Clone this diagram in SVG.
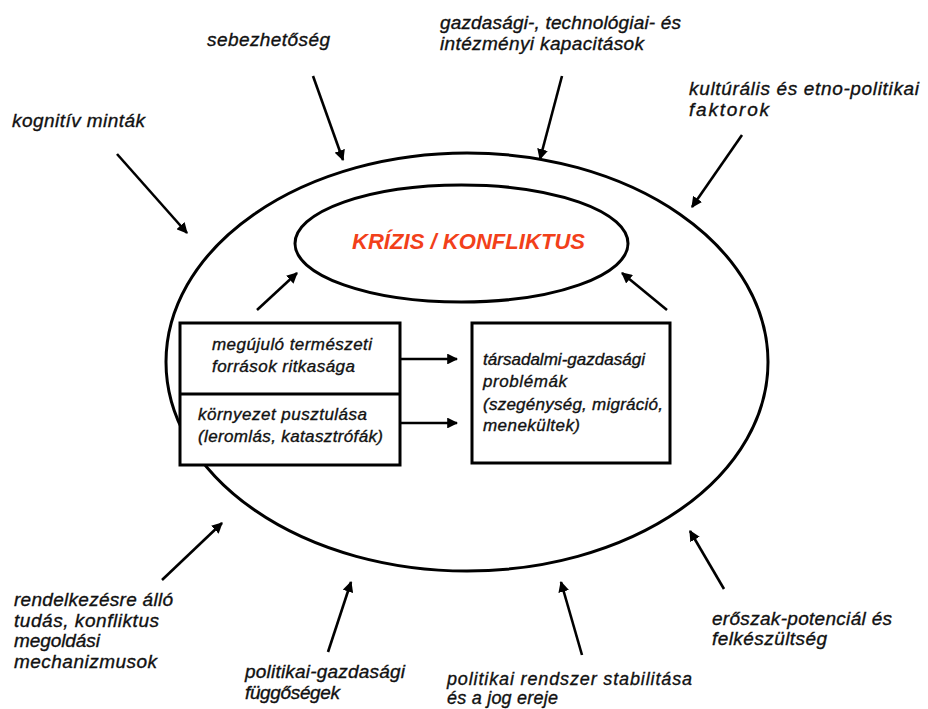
<svg xmlns="http://www.w3.org/2000/svg" width="928" height="709" viewBox="0 0 928 709">
<style>
.lbl{font-family:"Liberation Sans",Arial,sans-serif;font-style:italic;font-size:17px;fill:#111;stroke:#111;stroke-width:0.35}
.out{font-size:19px}
.sm{font-size:18px}
.shape{fill:none;stroke:#000;stroke-width:3}
.box{fill:#fff;stroke:#000;stroke-width:3}
.arr{fill:none;stroke:#000;stroke-width:2.6;marker-end:url(#ah)}
.title{font-family:"Liberation Sans",Arial,sans-serif;font-style:italic;font-weight:bold;font-size:22px;fill:#f2401a}
</style>
<defs>
<marker id="ah" viewBox="0 0 10 10" refX="9" refY="5" markerWidth="4.2" markerHeight="4.2" markerUnits="strokeWidth" orient="auto">
<path d="M0,0 L10,5 L0,10 z" fill="#000"/>
</marker>
</defs>
<rect width="928" height="709" fill="#fff"/>
<g id="outer"><ellipse class="shape" cx="467" cy="362" rx="301" ry="209"/></g>
<g id="krizis">
<ellipse class="shape" cx="461.5" cy="243.5" rx="166.5" ry="58.5"/>
<text class="title" x="352" y="249" textLength="233">KRÍZIS / KONFLIKTUS</text>
</g>
<g id="left-box">
<rect class="box" x="180" y="323" width="220" height="142"/>
<line class="shape" x1="180" y1="394" x2="400" y2="394"/>
<text class="lbl" x="212" y="350" textLength="160">megújuló természeti</text>
<text class="lbl" x="212" y="372" textLength="143">források ritkasága</text>
<text class="lbl" x="198" y="420" textLength="169">környezet pusztulása</text>
<text class="lbl" x="198" y="442" textLength="185">(leromlás, katasztrófák)</text>
</g>
<g id="right-box">
<rect class="box" x="472" y="323" width="198" height="140"/>
<text class="lbl" x="483" y="365" textLength="162">társadalmi-gazdasági</text>
<text class="lbl" x="483" y="387" textLength="84">problémák</text>
<text class="lbl" x="483" y="410" textLength="180">(szegénység, migráció,</text>
<text class="lbl" x="483" y="431" textLength="97">menekültek)</text>
</g>
<g id="labels">
<text class="lbl out" x="207" y="46" textLength="123">sebezhetőség</text>
<text class="lbl out" x="12" y="127" textLength="133">kognitív minták</text>
<text class="lbl out" x="440" y="29" textLength="241">gazdasági-, technológiai- és</text>
<text class="lbl out" x="440" y="50" textLength="204">intézményi kapacitások</text>
<text class="lbl out" x="689" y="95" textLength="230">kultúrális és etno-politikai</text>
<text class="lbl out" x="689" y="116" textLength="80">faktorok</text>
<text class="lbl out" x="14" y="606" textLength="159">rendelkezésre álló</text>
<text class="lbl out" x="14" y="627" textLength="145">tudás, konfliktus</text>
<text class="lbl out" x="14" y="647" textLength="86">megoldási</text>
<text class="lbl out" x="14" y="668" textLength="143">mechanizmusok</text>
<text class="lbl out" x="245" y="678" textLength="160">politikai-gazdasági</text>
<text class="lbl out" x="245" y="699" textLength="95">függőségek</text>
<text class="lbl sm" x="447" y="685" textLength="245">politikai rendszer stabilitása</text>
<text class="lbl sm" x="447" y="704" textLength="111">és a jog ereje</text>
<text class="lbl out" x="712" y="625" textLength="180">erőszak-potenciál és</text>
<text class="lbl out" x="712" y="645" textLength="115">felkészültség</text>
</g>
<g id="connectors">
<line class="arr" x1="313" y1="76" x2="343" y2="160"/>
<line class="arr" x1="117" y1="154" x2="187" y2="233"/>
<line class="arr" x1="562" y1="76" x2="540" y2="159"/>
<line class="arr" x1="742" y1="135" x2="692" y2="207"/>
<line class="arr" x1="162" y1="580" x2="222" y2="523"/>
<line class="arr" x1="328" y1="652" x2="351" y2="582"/>
<line class="arr" x1="582" y1="655" x2="561" y2="582"/>
<line class="arr" x1="724" y1="589" x2="690" y2="531"/>
<line class="arr" x1="257" y1="310" x2="297" y2="273"/>
<line class="arr" x1="667" y1="310" x2="622" y2="273"/>
<line class="arr" x1="400" y1="359" x2="457" y2="359"/>
<line class="arr" x1="400" y1="423" x2="457" y2="423"/>
</g>
</svg>
